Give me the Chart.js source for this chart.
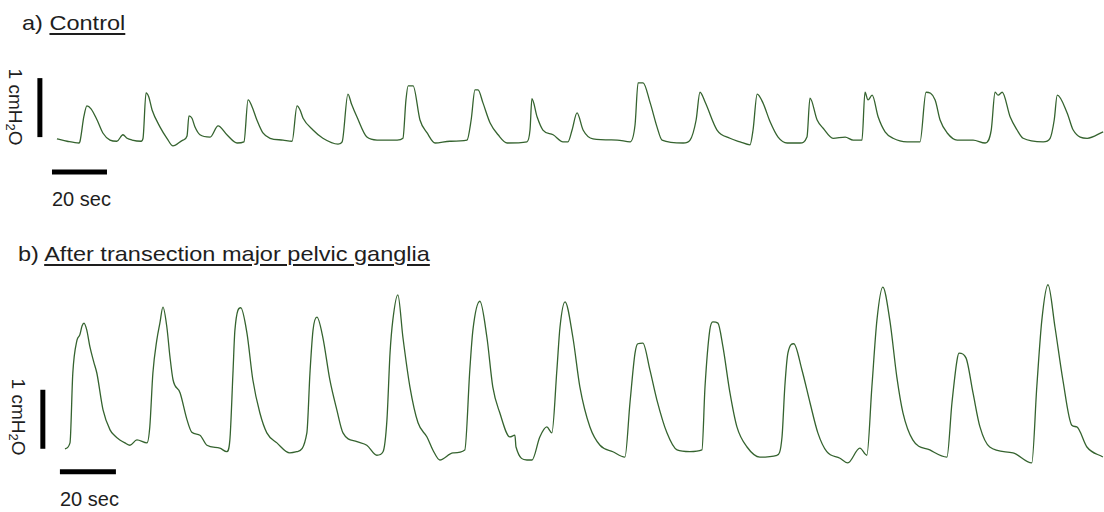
<!DOCTYPE html>
<html>
<head>
<meta charset="utf-8">
<script src="https://cdn.jsdelivr.net/npm/chart.js@4"></script>
<style>
  body { margin: 0; background: #fff; width: 1104px; height: 512px; position: relative; overflow: hidden; font-family: Arial, "Liberation Sans", sans-serif; color: #1e1e1e; }
  canvas { position: absolute; left: 0; }
  #graficoA { top: 60px; }
  #graficoB { top: 270px; }
  .titulo { position: absolute; font-size: 21px; line-height: 24px; white-space: nowrap; transform: scaleX(1.12); transform-origin: left top; }
  .titulo u { text-underline-offset: 3px; }
  .seg { position: absolute; font-size: 20px; line-height: 20px; white-space: nowrap; }
  .presion { position: absolute; font-size: 19px; line-height: 19px; white-space: nowrap; writing-mode: vertical-rl; transform: translate(-50%, -50%); }
  .presion sub { font-size: 13px; line-height: 0; }
</style>
</head>
<body>
<div class="titulo" style="left:22px; top:11px;">a) <u>Control</u></div>
<div class="titulo" style="left:18px; top:242px;">b) <u>After transection major pelvic ganglia</u></div>
<div class="presion" style="left:15px; top:107px;">1 cmH<sub>2</sub>O</div>
<div class="presion" style="left:18px; top:417px;">1 cmH<sub>2</sub>O</div>
<div class="seg" style="left:52px; top:189px;">20 sec</div>
<div class="seg" style="left:60px; top:489px;">20 sec</div>

<canvas id="graficoA" width="1104" height="120"></canvas>
<canvas id="graficoB" width="1104" height="215"></canvas>

<script>
// a) Control: tiempo (s) y presion (cmH2O sobre la linea base)
const tiempoControl = [1.8, 5.5, 9.8, 10.2, 11.6, 12.7, 14.2, 16.4, 18.5, 21.1, 23.6, 25.8, 27.3, 29.1, 32.4, 33.1, 34.2, 35.2, 36.4, 39.3, 41.8, 44.0, 47.6, 49.1,
  49.8, 50.9, 52.0, 53.8, 57.5, 60.4, 63.6, 67.3, 69.8, 71.3, 72.7, 74.5, 76.7, 79.3, 84.0, 87.3, 89.1, 90.2, 91.3, 94.9, 98.5, 104.0, 105.5,
  107.6, 108.9, 110.9, 114.5, 118.2, 125.5, 127.6, 128.7, 129.5, 131.3, 133.8, 136.4, 139.3, 144.7, 150.9, 152.4, 153.8, 154.9, 156.7, 159.3, 162.2,
  165.5, 172.7, 173.8, 174.5, 176.4, 178.5, 182.2, 185.8, 187.6, 189.1, 190.9, 193.1, 196.7, 205.5, 210.2, 212.0, 213.1, 214.9, 217.5, 220.0,
  221.8, 229.5, 232.0, 234.2, 235.6, 237.5, 241.8, 246.5, 250.2, 253.8, 254.9, 256.4, 258.5, 261.1, 264.0, 267.3, 272.0, 274.5, 275.6, 278.2,
  280.4, 284.0, 288.4, 291.3, 294.5, 295.6, 296.7, 298.2, 300.4, 302.9, 305.8, 310.9, 315.6, 317.8, 321.1, 322.9, 325.5, 329.1, 334.9, 339.3,
  341.5, 342.9, 344.0, 345.5, 348.4, 350.9, 353.1, 360.4, 362.9, 364.4, 365.5, 369.1, 371.3, 376.4, 382.2];
const presionControl = [0.07, 0.03, 0.00, 0.03, 0.45, 0.63, 0.58, 0.39, 0.17, 0.05, 0.03, 0.14, 0.08, 0.05, 0.03, 0.08, 0.85, 0.78, 0.56, 0.27, 0.08, -0.05, 0.05, 0.12,
  0.46, 0.42, 0.27, 0.14, 0.10, 0.29, 0.14, 0.00, 0.02, 0.73, 0.62, 0.39, 0.17, 0.08, 0.05, 0.03, 0.63, 0.56, 0.42, 0.22, 0.08, -0.02, 0.02,
  0.83, 0.66, 0.44, 0.10, 0.05, 0.05, 0.08, 0.73, 0.97, 0.97, 0.39, 0.17, 0.00, 0.03, 0.05, 0.39, 0.90, 0.90, 0.68, 0.34, 0.14,
  0.00, 0.02, 0.22, 0.75, 0.44, 0.22, 0.14, 0.02, 0.02, 0.22, 0.51, 0.22, 0.07, 0.05, 0.02, 0.31, 1.02, 1.02, 0.68, 0.27,
  0.05, 0.00, 0.05, 0.39, 0.86, 0.69, 0.22, 0.08, 0.02, -0.03, 0.22, 0.83, 0.68, 0.36, 0.10, 0.00, 0.00, 0.10, 0.76, 0.39,
  0.25, 0.08, 0.10, 0.05, 0.05, 0.86, 0.73, 0.81, 0.44, 0.19, 0.08, 0.02, 0.02, 0.86, 0.73, 0.39, 0.17, 0.05, 0.05, 0.00,
  0.22, 0.86, 0.81, 0.86, 0.44, 0.22, 0.08, 0.02, 0.08, 0.39, 0.81, 0.51, 0.22, 0.08, 0.19];

// b) After transection major pelvic ganglia
const tiempoGanglios = [1.8, 3.6, 4.6, 6.1, 7.1, 7.9, 8.6, 9.6, 10.7, 12.1, 13.2, 15.4, 17.9, 19.6, 21.4, 23.2, 25.0, 27.5, 31.1, 32.1, 33.2, 34.6, 35.7, 36.8, 38.2,
  39.3, 40.4, 42.9, 45.4, 47.1, 50.0, 52.5, 57.1, 59.6, 60.7, 61.8, 62.5, 64.6, 66.8, 68.9, 71.4, 73.9, 77.5, 82.1, 84.6,
  88.2, 89.3, 90.4, 91.8, 93.9, 96.4, 98.9, 101.1, 106.1, 109.6, 113.2, 115.4, 116.8, 117.9, 118.9, 120.7, 122.5, 125.0, 127.9, 131.1,
  133.2, 135.7, 140.4, 144.6, 146.4, 147.5, 150.0, 152.5, 154.6, 157.1, 160.7, 162.5, 162.9, 166.8, 168.6, 171.4, 173.9, 175.7, 177.5, 178.6,
  180.4, 183.2, 185.7, 189.3, 192.9, 197.5, 201.8, 203.6, 205.4, 206.4, 208.2, 210.7, 213.2, 216.8, 220.4, 225.0, 229.3, 230.4, 232.1, 233.2,
  235.0, 236.8, 239.3, 241.8, 245.4, 250.0, 256.1, 257.9, 258.9, 260.0, 262.1, 265.0, 267.9, 270.7, 273.9, 278.6, 281.4, 285.7, 288.2, 290.0,
  291.8, 293.9, 296.4, 298.9, 301.1, 304.6, 310.7, 316.8, 318.6, 320.4, 321.1, 323.6, 326.1, 328.6, 332.1, 340.4, 347.1, 348.9, 350.7, 352.9,
  355.4, 358.2, 361.4, 363.2, 366.8, 372.5];
const presionGanglios = [0.19, 0.29, 1.47, 2.03, 2.12, 2.27, 2.32, 2.20, 1.92, 1.66, 1.47, 0.85, 0.51, 0.41, 0.34, 0.29, 0.25, 0.34, 0.29, 0.56, 1.47, 2.03, 2.32, 2.59, 2.25,
  1.75, 1.36, 1.14, 0.68, 0.47, 0.42, 0.25, 0.20, 0.14, 0.34, 1.47, 2.20, 2.58, 2.15, 1.36, 0.80, 0.46, 0.29, 0.12, 0.14,
  0.46, 1.47, 2.20, 2.42, 2.08, 1.36, 0.85, 0.46, 0.31, 0.25, 0.08, 0.14, 0.68, 1.81, 2.37, 2.80, 2.08, 1.24, 0.63, 0.39,
  0.17, 0.00, 0.12, 0.17, 1.53, 2.20, 2.69, 2.08, 1.24, 0.80, 0.39, 0.42, 0.22, 0.00, 0.00, 0.39, 0.56, 0.46, 1.53, 2.25,
  2.68, 2.08, 1.24, 0.56, 0.25, 0.14, 0.05, 0.97, 1.81, 1.97, 1.98, 1.53, 1.02, 0.46, 0.17, 0.14, 0.17, 1.24, 2.20, 2.34,
  2.32, 1.92, 1.14, 0.56, 0.22, 0.05, 0.08, 0.39, 1.24, 1.81, 1.97, 1.53, 0.97, 0.46, 0.14, 0.03, -0.05, 0.20, 0.08, 1.24,
  2.37, 2.93, 2.37, 1.41, 0.80, 0.34, 0.17, 0.05, 0.97, 1.69, 1.81, 1.73, 1.14, 0.56, 0.22, 0.12, -0.05, 1.24, 2.37, 2.97,
  2.25, 1.36, 0.59, 0.56, 0.22, 0.05];

// barras de escala: 20 s y 1 cmH2O
const escalaSeg = 20;
const escalaPresion = 1;

const verdeTrazo = '#35632f';

function puntos(tiempos, presiones) {
    return tiempos.map((t, i) => ({ x: t, y: presiones[i] }));
}

function crearGrafico(id, tiempos, presiones, ejeX, ejeY, barraV, barraH) {
    const ctx = document.getElementById(id).getContext('2d');
    return new Chart(ctx, {
        type: 'line',
        data: {
            datasets: [
                { data: puntos(tiempos, presiones), borderColor: verdeTrazo, borderWidth: 1.3, cubicInterpolationMode: 'monotone' },
                // barra vertical (1 cmH2O)
                { data: [{ x: barraV.t, y: barraV.p }, { x: barraV.t, y: barraV.p + escalaPresion }], borderColor: '#000', borderWidth: 5 },
                // barra horizontal (20 sec)
                { data: [{ x: barraH.t, y: barraH.p }, { x: barraH.t + escalaSeg, y: barraH.p }], borderColor: '#000', borderWidth: 5 }
            ]
        },
        options: {
            responsive: false,
            animation: false,
            parsing: false,
            layout: { padding: 0 },
            elements: { point: { radius: 0 } },
            plugins: { legend: { display: false }, tooltip: { enabled: false } },
            scales: {
                x: { type: 'linear', display: false, min: ejeX[0], max: ejeX[1] },
                y: { type: 'linear', display: false, min: ejeY[0], max: ejeY[1] }
            }
        }
    });
}

crearGrafico('graficoA', tiempoControl, presionControl, [-18.9, 382.5], [-0.627, 1.407],
    { t: -4.4, p: 0.1 }, { t: 0, p: -0.49 });
crearGrafico('graficoB', tiempoGanglios, presionGanglios, [-21.4, 372.9], [-0.424, 3.22],
    { t: -6.1, p: 0.19 }, { t: 0, p: -0.2 });
</script>
</body>
</html>
